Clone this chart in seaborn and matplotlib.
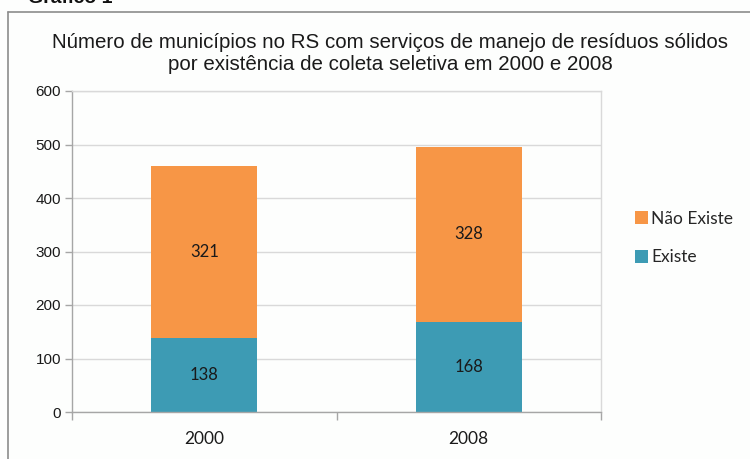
import pandas as pd
import numpy as np
import seaborn as sns
import matplotlib.pyplot as plt
from matplotlib.lines import Line2D

# dados
anos = ['2000', '2008']
existe = [138, 168]
nao_existe = [321, 328]

COR_EXISTE = '#3D9BB4'
COR_NAO = '#F79646'
GRID = '#D9D9D9'
EIXO = '#A6A6A6'

df = pd.DataFrame({'ano': anos, 'existe': existe, 'nao_existe': nao_existe})
df['total'] = df['existe'] + df['nao_existe']

sns.set_style('white')
plt.rcParams['font.family'] = ['Liberation Sans', 'DejaVu Sans']

fig = plt.figure(figsize=(7.5, 4.59), dpi=100)
fig.patch.set_facecolor('#FDFEFD')
ax = fig.add_axes([72 / 750, 47 / 459, 529 / 750, 321 / 459])
ax.set_facecolor('#FDFEFD')

# barras empilhadas: total (laranja) por baixo, existe (azul) por cima
sns.barplot(data=df, x='ano', y='total', color=COR_NAO, width=0.4,
            saturation=1, linewidth=0, ax=ax, label='Não Existe')
sns.barplot(data=df, x='ano', y='existe', color=COR_EXISTE, width=0.4,
            saturation=1, linewidth=0, ax=ax, label='Existe')
h, l = ax.get_legend_handles_labels()
if ax.get_legend() is not None:
    ax.get_legend().remove()

for i, row in df.iterrows():
    ax.text(i, row['existe'] / 2, str(row['existe']), ha='center', va='center',
            fontsize=12, family='Lato', color='#1a1a1a')
    ax.text(i, row['existe'] + row['nao_existe'] / 2, str(row['nao_existe']),
            ha='center', va='center', fontsize=12, family='Lato', color='#1a1a1a')

ax.set_xlim(-0.5, 1.5)
ax.set_ylim(0, 600)
ax.set_yticks(np.arange(0, 601, 100))
ax.yaxis.grid(True, color=GRID, lw=1)
ax.set_axisbelow(True)
ax.set_xlabel('')
ax.set_ylabel('')
for s in ax.spines.values():
    s.set_color(EIXO)
    s.set_linewidth(1)
ax.spines['top'].set_color(GRID)
ax.spines['right'].set_color(GRID)

ax.tick_params(axis='y', length=5, width=1, color=EIXO, labelsize=11,
               pad=3, left=True, labelcolor='#1a1a1a')
ax.tick_params(axis='x', which='major', length=0, pad=14, labelsize=12.5,
               labelcolor='#1a1a1a')
ax.set_xticks([-0.5, 0.5, 1.5], minor=True)
ax.tick_params(axis='x', which='minor', length=6, width=1, color=EIXO, bottom=True)
for lb in ax.get_xticklabels():
    lb.set_family('Lato')

# legenda
fig.legend(h, l, loc='center left', bbox_to_anchor=(619 / 750, 1 - 238 / 459),
           frameon=False, handlelength=0.75, handleheight=0.75, handletextpad=0.2,
           labelspacing=1.3, prop={'family': 'Lato', 'size': 12.5})

fig.text(390 / 750, 1 - 43 / 459,
         'Número de municípios no RS com serviços de manejo de resíduos sólidos',
         ha='center', va='center', fontsize=14.8, color='#1a1a1a')
fig.text(390 / 750, 1 - 64 / 459, 'por existência de coleta seletiva em 2000 e 2008',
         ha='center', va='center', fontsize=14.8, color='#1a1a1a')

# "Gráfico 1" cortado no topo, como no original
fig.text(28 / 750, 1 - 3 / 459, 'Gráfico 1', ha='left', va='baseline',
         fontsize=14, fontweight='bold', color='#111111')

# moldura externa do gráfico
fig.add_artist(Line2D([8 / 750, 8 / 750], [0, 1 - 12 / 459], color='#8C8C8C', lw=1.2,
                      transform=fig.transFigure))
fig.add_artist(Line2D([8 / 750, 1], [1 - 12 / 459, 1 - 12 / 459], color='#8C8C8C', lw=1.2,
                      transform=fig.transFigure))

fig.savefig('out.png', dpi=100, facecolor=fig.get_facecolor())
